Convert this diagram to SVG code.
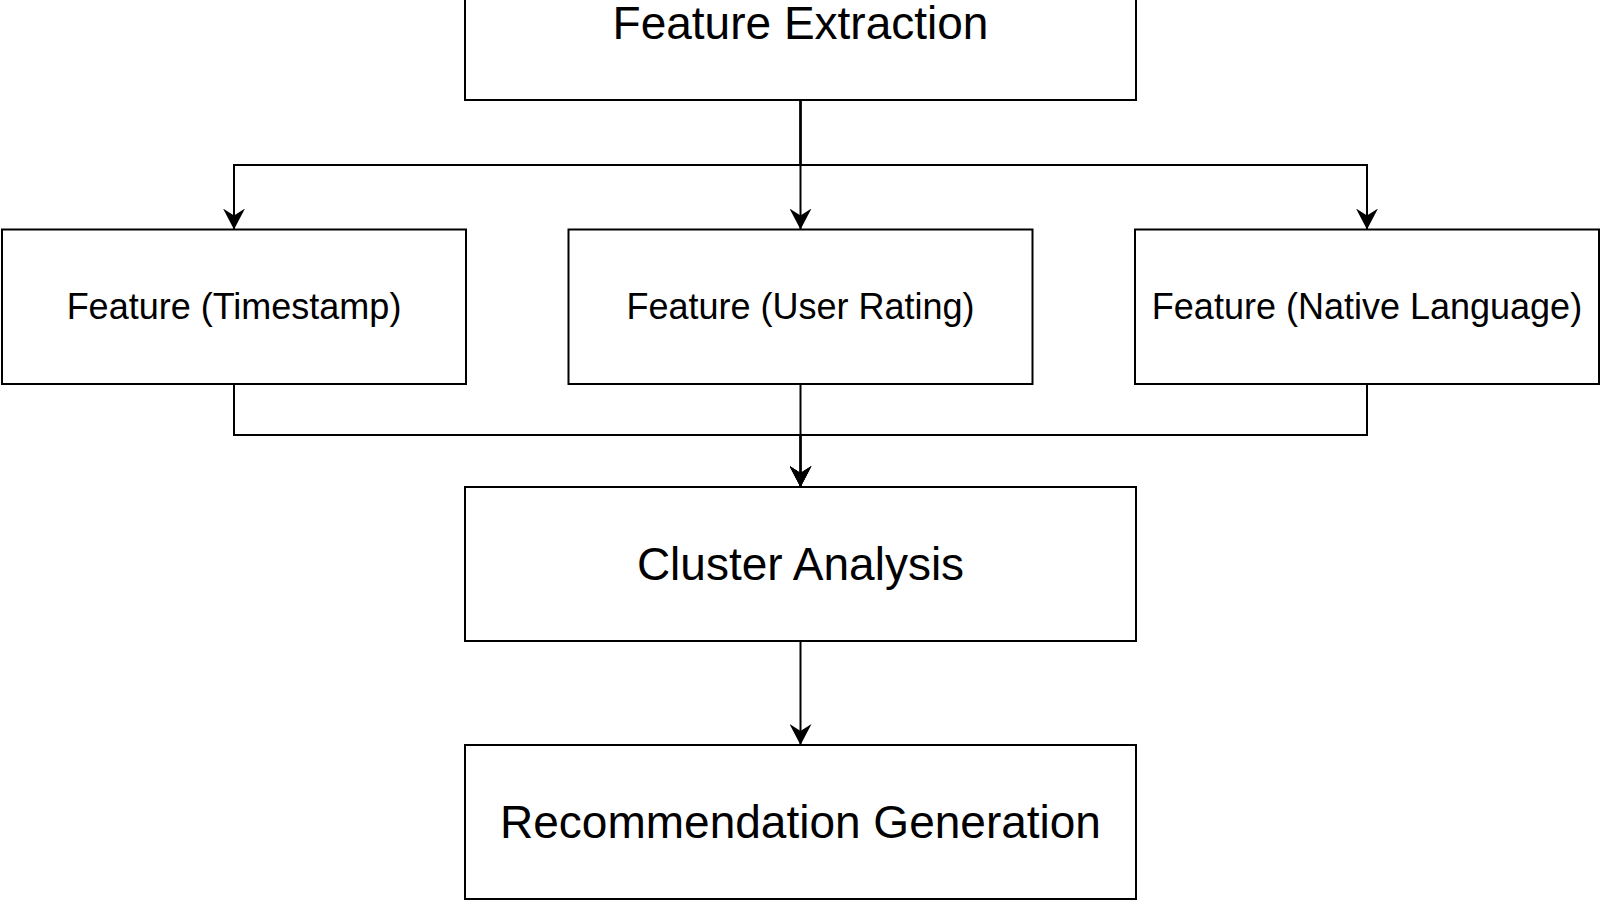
<svg xmlns="http://www.w3.org/2000/svg" width="1600" height="900" viewBox="0 0 1600 900">
<style>
.box{fill:#ffffff;stroke:#000000;stroke-width:2}
.lbl{font-family:"Liberation Sans",Arial,sans-serif;fill:#000000;text-anchor:middle;dominant-baseline:central}
.big{font-size:46px}
.small{font-size:36px}
.edge{fill:none;stroke:#000000;stroke-width:2}
</style>
<defs>
<marker id="arr" viewBox="0 0 21 22" refX="21" refY="11" markerWidth="21" markerHeight="22" markerUnits="userSpaceOnUse" orient="auto">
<path d="M0,0 L21,11 L0,22 L7,11 z" fill="#000000"/>
</marker>
</defs>
<rect width="1600" height="900" fill="#ffffff"/>
<g id="connectors">
<path class="edge" d="M800.5,100 L800.5,165 L234,165 L234,229.5" marker-end="url(#arr)"/>
<path class="edge" d="M800.5,100 L800.5,229.5" marker-end="url(#arr)"/>
<path class="edge" d="M800.5,100 L800.5,165 L1367,165 L1367,229.5" marker-end="url(#arr)"/>
<path class="edge" d="M234,384 L234,435 L800.5,435 L800.5,487" marker-end="url(#arr)"/>
<path class="edge" d="M800.5,384 L800.5,487" marker-end="url(#arr)"/>
<path class="edge" d="M1367,384 L1367,435 L800.5,435 L800.5,487" marker-end="url(#arr)"/>
<path class="edge" d="M800.5,641 L800.5,745" marker-end="url(#arr)"/>
</g>
<g id="feature-extraction">
<rect class="box" x="465" y="-54" width="671" height="154"/>
<text class="lbl big" x="800.5" y="23">Feature Extraction</text>
</g>
<g id="feature-timestamp">
<rect class="box" x="2" y="229.5" width="464" height="154.5"/>
<text class="lbl small" x="234" y="306.5">Feature (Timestamp)</text>
</g>
<g id="feature-user-rating">
<rect class="box" x="568.5" y="229.5" width="464" height="154.5"/>
<text class="lbl small" x="800.5" y="306.5">Feature (User Rating)</text>
</g>
<g id="feature-native-language">
<rect class="box" x="1135" y="229.5" width="464" height="154.5"/>
<text class="lbl small" x="1367" y="306.5">Feature (Native Language)</text>
</g>
<g id="cluster-analysis">
<rect class="box" x="465" y="487" width="671" height="154"/>
<text class="lbl big" x="800.5" y="564">Cluster Analysis</text>
</g>
<g id="recommendation-generation">
<rect class="box" x="465" y="745" width="671" height="154"/>
<text class="lbl big" x="800.5" y="822">Recommendation Generation</text>
</g>
</svg>
